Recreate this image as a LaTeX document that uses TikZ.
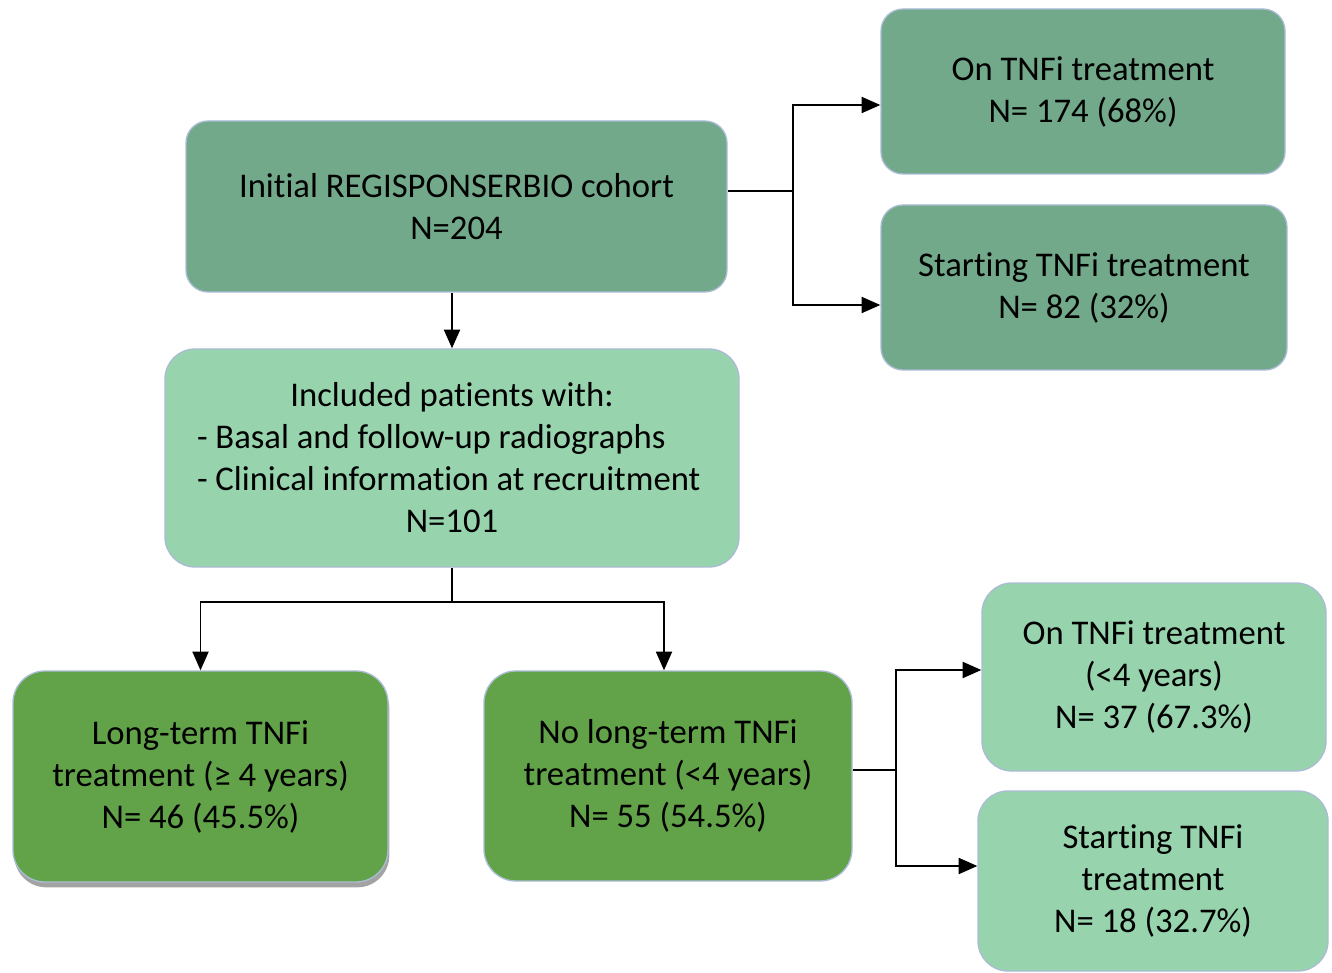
\documentclass[tikz,border=0pt]{standalone}
\usepackage{fontspec}
\setmainfont{Carlito}[RawFeature={-liga;-clig;-calt;-dlig}]
\usetikzlibrary{arrows.meta,shadows}
\definecolor{topgreen}{RGB}{114,169,138}
\definecolor{lightgreen}{RGB}{151,212,174}
\definecolor{darkgreen}{RGB}{98,163,74}
\definecolor{boxborder}{RGB}{170,188,212}
\newcommand\pxu{0.75pt}
\newcommand\boxfont{\fontsize{26}{31.5}\selectfont}
\begin{document}
\begin{tikzpicture}[x=0.75pt,y=-0.75pt,
  basebox/.style={draw=boxborder, line width=1pt, align=center, inner sep=0pt,
    font=\boxfont, text=black},
  topbox/.style={basebox, fill=topgreen, rounded corners=22*\pxu},
  lightbox/.style={basebox, fill=lightgreen, rounded corners=30*\pxu},
  darkbox/.style={basebox, fill=darkgreen, rounded corners=32*\pxu},
  conn/.style={line width=1.4pt, black},
  arr/.style={conn, -{Triangle[length=14pt,width=12pt]}}]
\useasboundingbox (0,0) rectangle (1332,973);

% top row
\node[topbox, minimum width=541*\pxu, minimum height=171*\pxu] (init) at (456.5,206.5)
  {Initial REGISPONSERBIO cohort\\N=204};
\node[topbox, minimum width=404*\pxu, minimum height=165*\pxu] (on1) at (1083,91.5)
  {On TNFi treatment\\N= 174 (68\%)};
\node[topbox, minimum width=406*\pxu, minimum height=165*\pxu] (st1) at (1084,287.5)
  {Starting TNFi treatment\\N= 82 (32\%)};

% included
\node[lightbox, minimum width=574*\pxu, minimum height=218*\pxu] (incl) at (452,458)
  {\begin{minipage}{382.5pt}\boxfont
   \centering Included patients with:\par
   \raggedright - Basal and follow-up radiographs\\- Clinical information at recruitment\par
   \centering N=101\par\end{minipage}};

% bottom row
\node[darkbox, minimum width=375*\pxu, minimum height=211*\pxu,
  drop shadow={shadow xshift=1pt, shadow yshift=-4pt, fill=black!45, opacity=0.8}] (lt) at (200.5,776.5)
  {Long-term TNFi\\treatment (≥ 4 years)\\N= 46 (45.5\%)};
\node[darkbox, minimum width=368*\pxu, minimum height=210*\pxu] (nolt) at (668,776)
  {No long-term TNFi\\treatment (<4 years)\\N= 55 (54.5\%)};
\node[lightbox, minimum width=344*\pxu, minimum height=188*\pxu] (on3) at (1154,677)
  {On TNFi treatment\\(<4 years)\\N= 37 (67.3\%)};
\node[lightbox, minimum width=350*\pxu, minimum height=180*\pxu] (st3) at (1153,881)
  {Starting TNFi\\treatment\\N= 18 (32.7\%)};

% connectors
\coordinate (j1) at (793,191);
\coordinate (j2) at (452,602);
\coordinate (j3) at (896,770);
\draw[arr] (init.south -| incl.north) -- (incl.north);
\draw[conn] (init.east |- j1) -- (j1);
\draw[arr] (j1) |- (on1.west |- 0,105);
\draw[arr] (j1) |- (st1.west |- 0,305);
\draw[conn] (incl.south) -- (j2);
\draw[arr] (j2) -| (lt.north);
\draw[arr] (j2) -| (nolt.north -| 664,0);
\draw[conn] (nolt.east |- j3) -- (j3);
\draw[arr] (j3) |- (on3.west |- 0,670);
\draw[arr] (j3) |- (st3.west |- 0,866);
\end{tikzpicture}
\end{document}
